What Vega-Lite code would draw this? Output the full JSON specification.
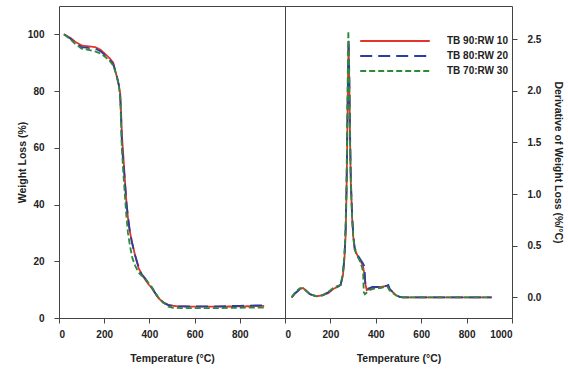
{
  "$schema": "https://vega.github.io/schema/vega-lite/v6.json",
  "background": "white",
  "padding": {"left": 16, "top": 5, "right": 0, "bottom": 0},
  "spacing": 0,
  "bounds": "flush",
  "config": {
    "font": "Liberation Sans",
    "view": {"stroke": "#444", "strokeWidth": 1},
    "axis": {
      "grid": false,
      "domain": false,
      "tickSize": 5,
      "tickColor": "#444",
      "labelFont": "Liberation Sans",
      "labelFontWeight": "bold",
      "labelFontSize": 10,
      "labelColor": "#222",
      "labelPadding": 5,
      "titleFont": "Liberation Sans",
      "titleFontWeight": "bold",
      "titleFontSize": 10.5,
      "titleColor": "#222"
    },
    "line": {"strokeWidth": 1.8}
  },
  "datasets": {
    "tga": [
      {"T": 22, "w": 100, "s": "TB 90:RW 10"}, {"T": 50, "w": 98.8, "s": "TB 90:RW 10"}, {"T": 73, "w": 97.3, "s": "TB 90:RW 10"}, {"T": 103, "w": 96, "s": "TB 90:RW 10"}, {"T": 130, "w": 95.8, "s": "TB 90:RW 10"}, {"T": 161, "w": 95.5, "s": "TB 90:RW 10"}, {"T": 185, "w": 94.5, "s": "TB 90:RW 10"}, {"T": 205, "w": 93, "s": "TB 90:RW 10"}, {"T": 225, "w": 91.5, "s": "TB 90:RW 10"}, {"T": 240, "w": 90, "s": "TB 90:RW 10"}, {"T": 256, "w": 85, "s": "TB 90:RW 10"}, {"T": 265, "w": 82, "s": "TB 90:RW 10"}, {"T": 271, "w": 79, "s": "TB 90:RW 10"}, {"T": 275, "w": 72, "s": "TB 90:RW 10"}, {"T": 278, "w": 65, "s": "TB 90:RW 10"}, {"T": 286, "w": 55.5, "s": "TB 90:RW 10"}, {"T": 293, "w": 47, "s": "TB 90:RW 10"}, {"T": 300, "w": 39, "s": "TB 90:RW 10"}, {"T": 310, "w": 32, "s": "TB 90:RW 10"}, {"T": 322, "w": 27, "s": "TB 90:RW 10"}, {"T": 337, "w": 22, "s": "TB 90:RW 10"}, {"T": 352, "w": 17.7, "s": "TB 90:RW 10"}, {"T": 365, "w": 15.5, "s": "TB 90:RW 10"}, {"T": 381, "w": 13.6, "s": "TB 90:RW 10"}, {"T": 395, "w": 12, "s": "TB 90:RW 10"}, {"T": 410, "w": 10.6, "s": "TB 90:RW 10"}, {"T": 425, "w": 8.8, "s": "TB 90:RW 10"}, {"T": 440, "w": 7, "s": "TB 90:RW 10"}, {"T": 460, "w": 5.6, "s": "TB 90:RW 10"}, {"T": 483, "w": 4.7, "s": "TB 90:RW 10"}, {"T": 505, "w": 4.3, "s": "TB 90:RW 10"}, {"T": 527, "w": 4.1, "s": "TB 90:RW 10"}, {"T": 600, "w": 4.0, "s": "TB 90:RW 10"}, {"T": 700, "w": 4.0, "s": "TB 90:RW 10"}, {"T": 800, "w": 4.1, "s": "TB 90:RW 10"}, {"T": 880, "w": 4.2, "s": "TB 90:RW 10"}, {"T": 908, "w": 4.3, "s": "TB 90:RW 10"},
      {"T": 22, "w": 100, "s": "TB 80:RW 20"}, {"T": 50, "w": 98.5, "s": "TB 80:RW 20"}, {"T": 73, "w": 97, "s": "TB 80:RW 20"}, {"T": 100, "w": 95.5, "s": "TB 80:RW 20"}, {"T": 130, "w": 95.2, "s": "TB 80:RW 20"}, {"T": 160, "w": 95, "s": "TB 80:RW 20"}, {"T": 185, "w": 94, "s": "TB 80:RW 20"}, {"T": 205, "w": 92.5, "s": "TB 80:RW 20"}, {"T": 225, "w": 91, "s": "TB 80:RW 20"}, {"T": 240, "w": 89.5, "s": "TB 80:RW 20"}, {"T": 256, "w": 85.2, "s": "TB 80:RW 20"}, {"T": 265, "w": 82, "s": "TB 80:RW 20"}, {"T": 271, "w": 78, "s": "TB 80:RW 20"}, {"T": 275, "w": 70, "s": "TB 80:RW 20"}, {"T": 278, "w": 62, "s": "TB 80:RW 20"}, {"T": 285, "w": 54, "s": "TB 80:RW 20"}, {"T": 290, "w": 50, "s": "TB 80:RW 20"}, {"T": 298, "w": 41, "s": "TB 80:RW 20"}, {"T": 305, "w": 36, "s": "TB 80:RW 20"}, {"T": 313, "w": 31, "s": "TB 80:RW 20"}, {"T": 322, "w": 27, "s": "TB 80:RW 20"}, {"T": 337, "w": 22, "s": "TB 80:RW 20"}, {"T": 352, "w": 18, "s": "TB 80:RW 20"}, {"T": 365, "w": 15.5, "s": "TB 80:RW 20"}, {"T": 381, "w": 14, "s": "TB 80:RW 20"}, {"T": 395, "w": 12.3, "s": "TB 80:RW 20"}, {"T": 410, "w": 10.8, "s": "TB 80:RW 20"}, {"T": 425, "w": 8.9, "s": "TB 80:RW 20"}, {"T": 440, "w": 7, "s": "TB 80:RW 20"}, {"T": 460, "w": 5.5, "s": "TB 80:RW 20"}, {"T": 483, "w": 4.5, "s": "TB 80:RW 20"}, {"T": 505, "w": 4.2, "s": "TB 80:RW 20"}, {"T": 527, "w": 4.1, "s": "TB 80:RW 20"}, {"T": 600, "w": 4.1, "s": "TB 80:RW 20"}, {"T": 700, "w": 4.1, "s": "TB 80:RW 20"}, {"T": 800, "w": 4.3, "s": "TB 80:RW 20"}, {"T": 908, "w": 4.5, "s": "TB 80:RW 20"},
      {"T": 22, "w": 100, "s": "TB 70:RW 30"}, {"T": 50, "w": 98.3, "s": "TB 70:RW 30"}, {"T": 73, "w": 96.5, "s": "TB 70:RW 30"}, {"T": 100, "w": 95, "s": "TB 70:RW 30"}, {"T": 130, "w": 94.5, "s": "TB 70:RW 30"}, {"T": 160, "w": 94, "s": "TB 70:RW 30"}, {"T": 185, "w": 93.2, "s": "TB 70:RW 30"}, {"T": 205, "w": 92, "s": "TB 70:RW 30"}, {"T": 225, "w": 90.5, "s": "TB 70:RW 30"}, {"T": 240, "w": 89, "s": "TB 70:RW 30"}, {"T": 255, "w": 85.5, "s": "TB 70:RW 30"}, {"T": 265, "w": 82, "s": "TB 70:RW 30"}, {"T": 271, "w": 77, "s": "TB 70:RW 30"}, {"T": 275, "w": 68, "s": "TB 70:RW 30"}, {"T": 278, "w": 60, "s": "TB 70:RW 30"}, {"T": 284, "w": 52, "s": "TB 70:RW 30"}, {"T": 290, "w": 45, "s": "TB 70:RW 30"}, {"T": 297, "w": 37, "s": "TB 70:RW 30"}, {"T": 305, "w": 30, "s": "TB 70:RW 30"}, {"T": 315, "w": 25, "s": "TB 70:RW 30"}, {"T": 325, "w": 21, "s": "TB 70:RW 30"}, {"T": 337, "w": 18.5, "s": "TB 70:RW 30"}, {"T": 352, "w": 16, "s": "TB 70:RW 30"}, {"T": 365, "w": 15, "s": "TB 70:RW 30"}, {"T": 381, "w": 14, "s": "TB 70:RW 30"}, {"T": 395, "w": 12.5, "s": "TB 70:RW 30"}, {"T": 410, "w": 11, "s": "TB 70:RW 30"}, {"T": 425, "w": 9, "s": "TB 70:RW 30"}, {"T": 440, "w": 7.3, "s": "TB 70:RW 30"}, {"T": 454, "w": 6, "s": "TB 70:RW 30"}, {"T": 470, "w": 4.9, "s": "TB 70:RW 30"}, {"T": 483, "w": 4.0, "s": "TB 70:RW 30"}, {"T": 505, "w": 3.6, "s": "TB 70:RW 30"}, {"T": 540, "w": 3.5, "s": "TB 70:RW 30"}, {"T": 600, "w": 3.5, "s": "TB 70:RW 30"}, {"T": 700, "w": 3.5, "s": "TB 70:RW 30"}, {"T": 800, "w": 3.6, "s": "TB 70:RW 30"}, {"T": 908, "w": 3.7, "s": "TB 70:RW 30"}
    ],
    "dtg": [
      {"T": 29, "d": 0.0, "s": "TB 90:RW 10"}, {"T": 45, "d": 0.04, "s": "TB 90:RW 10"}, {"T": 66, "d": 0.08, "s": "TB 90:RW 10"}, {"T": 80, "d": 0.09, "s": "TB 90:RW 10"}, {"T": 95, "d": 0.06, "s": "TB 90:RW 10"}, {"T": 110, "d": 0.03, "s": "TB 90:RW 10"}, {"T": 139, "d": 0.01, "s": "TB 90:RW 10"}, {"T": 165, "d": 0.02, "s": "TB 90:RW 10"}, {"T": 190, "d": 0.04, "s": "TB 90:RW 10"}, {"T": 212, "d": 0.08, "s": "TB 90:RW 10"}, {"T": 230, "d": 0.1, "s": "TB 90:RW 10"}, {"T": 245, "d": 0.12, "s": "TB 90:RW 10"}, {"T": 255, "d": 0.21, "s": "TB 90:RW 10"}, {"T": 262, "d": 0.38, "s": "TB 90:RW 10"}, {"T": 267, "d": 0.6, "s": "TB 90:RW 10"}, {"T": 271, "d": 1.0, "s": "TB 90:RW 10"}, {"T": 274, "d": 1.5, "s": "TB 90:RW 10"}, {"T": 277, "d": 2.05, "s": "TB 90:RW 10"}, {"T": 280, "d": 2.45, "s": "TB 90:RW 10"}, {"T": 283, "d": 2.1, "s": "TB 90:RW 10"}, {"T": 286, "d": 1.6, "s": "TB 90:RW 10"}, {"T": 290, "d": 1.1, "s": "TB 90:RW 10"}, {"T": 296, "d": 0.76, "s": "TB 90:RW 10"}, {"T": 301, "d": 0.58, "s": "TB 90:RW 10"}, {"T": 307, "d": 0.47, "s": "TB 90:RW 10"}, {"T": 318, "d": 0.41, "s": "TB 90:RW 10"}, {"T": 328, "d": 0.37, "s": "TB 90:RW 10"}, {"T": 343, "d": 0.31, "s": "TB 90:RW 10"}, {"T": 350, "d": 0.22, "s": "TB 90:RW 10"}, {"T": 355, "d": 0.12, "s": "TB 90:RW 10"}, {"T": 360, "d": 0.07, "s": "TB 90:RW 10"}, {"T": 372, "d": 0.08, "s": "TB 90:RW 10"}, {"T": 385, "d": 0.09, "s": "TB 90:RW 10"}, {"T": 401, "d": 0.1, "s": "TB 90:RW 10"}, {"T": 420, "d": 0.1, "s": "TB 90:RW 10"}, {"T": 445, "d": 0.11, "s": "TB 90:RW 10"}, {"T": 452, "d": 0.11, "s": "TB 90:RW 10"}, {"T": 460, "d": 0.08, "s": "TB 90:RW 10"}, {"T": 475, "d": 0.05, "s": "TB 90:RW 10"}, {"T": 489, "d": 0.02, "s": "TB 90:RW 10"}, {"T": 505, "d": 0.005, "s": "TB 90:RW 10"}, {"T": 518, "d": 0.0, "s": "TB 90:RW 10"}, {"T": 600, "d": 0.0, "s": "TB 90:RW 10"}, {"T": 700, "d": 0.0, "s": "TB 90:RW 10"}, {"T": 800, "d": 0.0, "s": "TB 90:RW 10"}, {"T": 910, "d": 0.0, "s": "TB 90:RW 10"},
      {"T": 29, "d": 0.0, "s": "TB 80:RW 20"}, {"T": 45, "d": 0.04, "s": "TB 80:RW 20"}, {"T": 66, "d": 0.08, "s": "TB 80:RW 20"}, {"T": 80, "d": 0.09, "s": "TB 80:RW 20"}, {"T": 95, "d": 0.06, "s": "TB 80:RW 20"}, {"T": 110, "d": 0.03, "s": "TB 80:RW 20"}, {"T": 139, "d": 0.01, "s": "TB 80:RW 20"}, {"T": 165, "d": 0.02, "s": "TB 80:RW 20"}, {"T": 190, "d": 0.05, "s": "TB 80:RW 20"}, {"T": 212, "d": 0.08, "s": "TB 80:RW 20"}, {"T": 230, "d": 0.1, "s": "TB 80:RW 20"}, {"T": 245, "d": 0.12, "s": "TB 80:RW 20"}, {"T": 255, "d": 0.22, "s": "TB 80:RW 20"}, {"T": 262, "d": 0.4, "s": "TB 80:RW 20"}, {"T": 267, "d": 0.65, "s": "TB 80:RW 20"}, {"T": 271, "d": 1.05, "s": "TB 80:RW 20"}, {"T": 274, "d": 1.55, "s": "TB 80:RW 20"}, {"T": 277, "d": 2.1, "s": "TB 80:RW 20"}, {"T": 280, "d": 2.5, "s": "TB 80:RW 20"}, {"T": 283, "d": 2.2, "s": "TB 80:RW 20"}, {"T": 286, "d": 1.7, "s": "TB 80:RW 20"}, {"T": 290, "d": 1.15, "s": "TB 80:RW 20"}, {"T": 296, "d": 0.78, "s": "TB 80:RW 20"}, {"T": 301, "d": 0.6, "s": "TB 80:RW 20"}, {"T": 307, "d": 0.48, "s": "TB 80:RW 20"}, {"T": 318, "d": 0.42, "s": "TB 80:RW 20"}, {"T": 328, "d": 0.38, "s": "TB 80:RW 20"}, {"T": 343, "d": 0.33, "s": "TB 80:RW 20"}, {"T": 350, "d": 0.3, "s": "TB 80:RW 20"}, {"T": 354, "d": 0.12, "s": "TB 80:RW 20"}, {"T": 360, "d": 0.08, "s": "TB 80:RW 20"}, {"T": 372, "d": 0.09, "s": "TB 80:RW 20"}, {"T": 385, "d": 0.1, "s": "TB 80:RW 20"}, {"T": 401, "d": 0.1, "s": "TB 80:RW 20"}, {"T": 420, "d": 0.1, "s": "TB 80:RW 20"}, {"T": 445, "d": 0.11, "s": "TB 80:RW 20"}, {"T": 455, "d": 0.12, "s": "TB 80:RW 20"}, {"T": 462, "d": 0.08, "s": "TB 80:RW 20"}, {"T": 475, "d": 0.05, "s": "TB 80:RW 20"}, {"T": 489, "d": 0.02, "s": "TB 80:RW 20"}, {"T": 505, "d": 0.005, "s": "TB 80:RW 20"}, {"T": 518, "d": 0.0, "s": "TB 80:RW 20"}, {"T": 600, "d": 0.0, "s": "TB 80:RW 20"}, {"T": 700, "d": 0.0, "s": "TB 80:RW 20"}, {"T": 800, "d": 0.0, "s": "TB 80:RW 20"}, {"T": 910, "d": 0.0, "s": "TB 80:RW 20"},
      {"T": 29, "d": 0.0, "s": "TB 70:RW 30"}, {"T": 45, "d": 0.05, "s": "TB 70:RW 30"}, {"T": 66, "d": 0.09, "s": "TB 70:RW 30"}, {"T": 80, "d": 0.09, "s": "TB 70:RW 30"}, {"T": 95, "d": 0.06, "s": "TB 70:RW 30"}, {"T": 110, "d": 0.03, "s": "TB 70:RW 30"}, {"T": 139, "d": 0.01, "s": "TB 70:RW 30"}, {"T": 165, "d": 0.02, "s": "TB 70:RW 30"}, {"T": 190, "d": 0.05, "s": "TB 70:RW 30"}, {"T": 212, "d": 0.09, "s": "TB 70:RW 30"}, {"T": 230, "d": 0.11, "s": "TB 70:RW 30"}, {"T": 245, "d": 0.12, "s": "TB 70:RW 30"}, {"T": 255, "d": 0.23, "s": "TB 70:RW 30"}, {"T": 262, "d": 0.42, "s": "TB 70:RW 30"}, {"T": 267, "d": 0.7, "s": "TB 70:RW 30"}, {"T": 271, "d": 1.1, "s": "TB 70:RW 30"}, {"T": 274, "d": 1.65, "s": "TB 70:RW 30"}, {"T": 277, "d": 2.25, "s": "TB 70:RW 30"}, {"T": 279, "d": 2.58, "s": "TB 70:RW 30"}, {"T": 282, "d": 2.3, "s": "TB 70:RW 30"}, {"T": 285, "d": 1.75, "s": "TB 70:RW 30"}, {"T": 289, "d": 1.2, "s": "TB 70:RW 30"}, {"T": 295, "d": 0.8, "s": "TB 70:RW 30"}, {"T": 300, "d": 0.6, "s": "TB 70:RW 30"}, {"T": 307, "d": 0.46, "s": "TB 70:RW 30"}, {"T": 318, "d": 0.4, "s": "TB 70:RW 30"}, {"T": 328, "d": 0.36, "s": "TB 70:RW 30"}, {"T": 338, "d": 0.3, "s": "TB 70:RW 30"}, {"T": 344, "d": 0.25, "s": "TB 70:RW 30"}, {"T": 347, "d": 0.05, "s": "TB 70:RW 30"}, {"T": 352, "d": 0.03, "s": "TB 70:RW 30"}, {"T": 362, "d": 0.05, "s": "TB 70:RW 30"}, {"T": 372, "d": 0.07, "s": "TB 70:RW 30"}, {"T": 385, "d": 0.08, "s": "TB 70:RW 30"}, {"T": 401, "d": 0.09, "s": "TB 70:RW 30"}, {"T": 420, "d": 0.09, "s": "TB 70:RW 30"}, {"T": 440, "d": 0.1, "s": "TB 70:RW 30"}, {"T": 452, "d": 0.1, "s": "TB 70:RW 30"}, {"T": 460, "d": 0.07, "s": "TB 70:RW 30"}, {"T": 475, "d": 0.04, "s": "TB 70:RW 30"}, {"T": 489, "d": 0.02, "s": "TB 70:RW 30"}, {"T": 505, "d": 0.005, "s": "TB 70:RW 30"}, {"T": 518, "d": 0.0, "s": "TB 70:RW 30"}, {"T": 600, "d": 0.0, "s": "TB 70:RW 30"}, {"T": 700, "d": 0.0, "s": "TB 70:RW 30"}, {"T": 800, "d": 0.0, "s": "TB 70:RW 30"}, {"T": 910, "d": 0.0, "s": "TB 70:RW 30"}
    ]
  },
  "hconcat": [
    {
      "width": 226,
      "height": 312,
      "data": {"name": "tga"},
      "mark": {"type": "line", "clip": true},
      "encoding": {
        "x": {"field": "T", "type": "quantitative", "scale": {"domain": [0, 1000], "nice": false}, "axis": {"values": [0, 200, 400, 600, 800], "title": "Temperature (°C)", "labelPadding": 6, "titlePadding": 14}},
        "y": {"field": "w", "type": "quantitative", "scale": {"domain": [0, 110], "nice": false}, "axis": {"values": [0, 20, 40, 60, 80, 100], "title": "Weight Loss (%)", "labelPadding": 10, "titlePadding": 0}},
        "color": {"field": "s", "type": "nominal", "sort": ["TB 90:RW 10", "TB 80:RW 20", "TB 70:RW 30"], "scale": {"domain": ["TB 90:RW 10", "TB 80:RW 20", "TB 70:RW 30"], "range": ["#e5322a", "#2b3d9e", "#2e8a3b"]}, "legend": null},
        "strokeDash": {"field": "s", "type": "nominal", "sort": ["TB 90:RW 10", "TB 80:RW 20", "TB 70:RW 30"], "scale": {"domain": ["TB 90:RW 10", "TB 80:RW 20", "TB 70:RW 30"], "range": [[1, 0], [12, 6], [6, 3]]}, "legend": null}
      }
    },
    {
      "width": 227,
      "height": 312,
      "data": {"name": "dtg"},
      "mark": {"type": "line", "clip": true},
      "encoding": {
        "x": {"field": "T", "type": "quantitative", "scale": {"domain": [0, 1000], "nice": false}, "axis": {"values": [0, 200, 400, 600, 800, 1000], "format": "d", "title": "Temperature (°C)", "labelPadding": 6, "titlePadding": 14}},
        "y": {"field": "d", "type": "quantitative", "scale": {"domain": [-0.2, 2.82], "nice": false, "zero": false}, "axis": {"orient": "right", "values": [0, 0.5, 1, 1.5, 2, 2.5], "format": ".1f", "title": "Derivative of Weight Loss (%/°C)", "labelPadding": 10, "titlePadding": 12}},
        "color": {"field": "s", "type": "nominal", "sort": ["TB 90:RW 10", "TB 80:RW 20", "TB 70:RW 30"], "scale": {"domain": ["TB 90:RW 10", "TB 80:RW 20", "TB 70:RW 30"], "range": ["#e5322a", "#2b3d9e", "#2e8a3b"]}, "legend": {"title": null, "orient": "none", "legendX": 103, "legendY": 28, "symbolType": "M-5.8,0H5.8", "symbolSize": 144, "symbolStrokeWidth": 2.5, "labelFontSize": 10, "labelFontWeight": "bold", "labelColor": "#222", "labelOffset": 45, "rowPadding": 3, "padding": 0}},
        "strokeDash": {"field": "s", "type": "nominal", "sort": ["TB 90:RW 10", "TB 80:RW 20", "TB 70:RW 30"], "scale": {"domain": ["TB 90:RW 10", "TB 80:RW 20", "TB 70:RW 30"], "range": [[1, 0], [12, 6], [6, 3]]}, "legend": {"title": null, "orient": "none", "legendX": 103, "legendY": 28, "symbolType": "M-5.8,0H5.8", "symbolSize": 144, "symbolStrokeWidth": 2.5, "labelFontSize": 10, "labelFontWeight": "bold", "labelColor": "#222", "labelOffset": 45, "rowPadding": 3, "padding": 0}}
      }
    }
  ],
  "resolve": {"scale": {"color": "independent", "strokeDash": "independent"}}
}
